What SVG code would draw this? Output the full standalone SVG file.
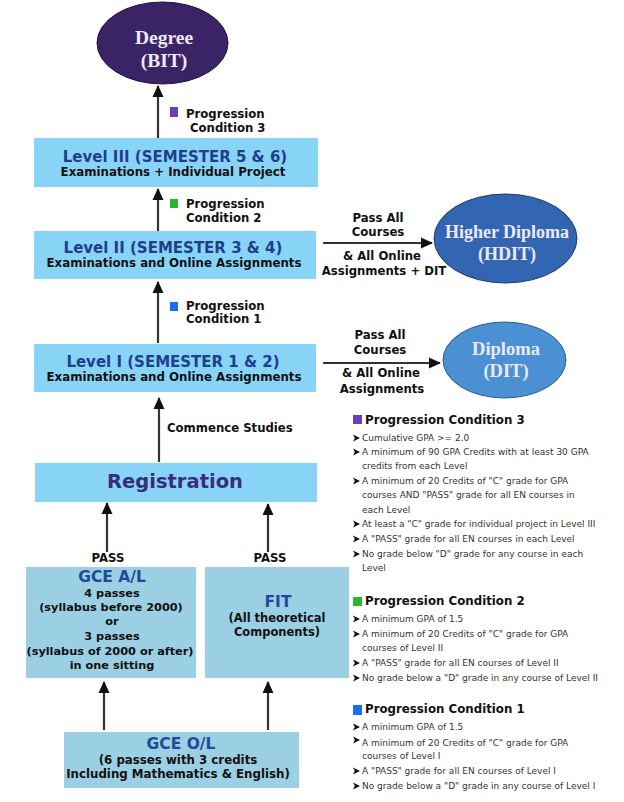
<svg xmlns="http://www.w3.org/2000/svg" width="624" height="802" viewBox="0 0 624 802">
<defs>
<marker id="ah" markerUnits="userSpaceOnUse" markerWidth="12" markerHeight="12" viewBox="0 0 12 12" refX="11" refY="6" orient="auto">
<path d="M0,0.5 L12,6 L0,11.5 z" fill="#111"/>
</marker>
<style>
.lvl{fill:#88D4F7}
.low{fill:#9BCFE3}
.conn{stroke:#333;stroke-width:2.2;fill:none;marker-end:url(#ah)}
.t{font-family:"DejaVu Sans",Verdana,sans-serif;font-weight:bold;text-anchor:middle}
.lt{font-size:15px;fill:#1F3F8C}
.sub{font-size:11.8px;fill:#111}
.lab{font-family:"DejaVu Sans",Verdana,sans-serif;font-weight:bold;font-size:11.7px;fill:#111}
.ell{font-family:"Liberation Serif","Times New Roman",serif;font-weight:bold;text-anchor:middle;fill:#EDE9F8}
.pt{font-family:"DejaVu Sans",Verdana,sans-serif;font-weight:bold;font-size:11.8px;fill:#111}
.pb{font-family:"DejaVu Sans",Verdana,sans-serif;font-size:9px;fill:#333}
.bl{fill:#111}
</style>
<path id="bul" d="M0,-6.5 L7,-3 L0,0.5 L1.8,-3 z"/>
</defs>

<g id="connectors">
<line class="conn" x1="158" y1="138" x2="158" y2="86"/>
<line class="conn" x1="158" y1="231" x2="158" y2="189"/>
<line class="conn" x1="158" y1="343" x2="158" y2="282"/>
<line class="conn" x1="159" y1="462" x2="159" y2="398"/>
<line class="conn" x1="107" y1="552" x2="107" y2="503"/>
<line class="conn" x1="268" y1="552" x2="268" y2="504"/>
<line class="conn" x1="104" y1="730" x2="104" y2="682"/>
<line class="conn" x1="268" y1="730" x2="268" y2="682"/>
<line class="conn" x1="323" y1="243" x2="432" y2="243"/>
<line class="conn" x1="323" y1="363" x2="440" y2="363"/>
</g>

<g id="degree">
<ellipse cx="162.5" cy="43" rx="65.5" ry="41" fill="#3A2466" stroke="#24153F" stroke-width="1"/>
<text class="ell" x="164" y="44" font-size="19.5">Degree</text>
<text class="ell" x="164" y="67" font-size="19.5">(BIT)</text>
</g>

<g id="hdit">
<ellipse cx="505.5" cy="238.5" rx="71.5" ry="44.5" fill="#3366B2" stroke="#1E3D70" stroke-width="1"/>
<text class="ell" x="507" y="238" font-size="18">Higher Diploma</text>
<text class="ell" x="507" y="260" font-size="18">(HDIT)</text>
</g>

<g id="dit">
<ellipse cx="504.5" cy="360" rx="61.5" ry="38" fill="#4A90D2" stroke="#2A5C92" stroke-width="1"/>
<text class="ell" x="506" y="355" font-size="18.5">Diploma</text>
<text class="ell" x="506" y="377" font-size="18.5">(DIT)</text>
</g>

<g id="label-pc3">
<rect x="170" y="107" width="8" height="10" fill="#6A3FB5"/>
<text class="lab" x="186" y="118">Progression</text>
<text class="lab" x="190" y="132">Condition 3</text>
</g>

<g id="level3">
<rect class="lvl" x="34" y="138" width="284" height="49"/>
<text class="t lt" x="175" y="162">Level III (SEMESTER 5 &amp; 6)</text>
<text class="t sub" x="173" y="176">Examinations + Individual Project</text>
</g>

<g id="label-pc2">
<rect x="170" y="199" width="8" height="9" fill="#2DB52D"/>
<text class="lab" x="186" y="208">Progression</text>
<text class="lab" x="186" y="222">Condition 2</text>
</g>

<g id="level2">
<rect class="lvl" x="34" y="231" width="282" height="48"/>
<text class="t lt" x="173" y="253">Level II (SEMESTER 3 &amp; 4)</text>
<text class="t sub" x="174" y="267">Examinations and Online Assignments</text>
</g>

<g id="label-hdit">
<text class="t lab" x="378" y="222">Pass All</text>
<text class="t lab" x="378" y="236">Courses</text>
<text class="t lab" x="382" y="260">&amp; All Online</text>
<text class="t lab" x="384" y="275">Assignments + DIT</text>
</g>

<g id="label-pc1">
<rect x="170" y="302" width="8" height="9" fill="#1A6EF0"/>
<text class="lab" x="186" y="310">Progression</text>
<text class="lab" x="186" y="323">Condition 1</text>
</g>

<g id="level1">
<rect class="lvl" x="34" y="344" width="282" height="48"/>
<text class="t lt" x="173" y="367">Level I (SEMESTER 1 &amp; 2)</text>
<text class="t sub" x="174" y="381">Examinations and Online Assignments</text>
</g>

<g id="label-dit">
<text class="t lab" x="380" y="339">Pass All</text>
<text class="t lab" x="380" y="354">Courses</text>
<text class="t lab" x="381" y="377">&amp; All Online</text>
<text class="t lab" x="382" y="393">Assignments</text>
</g>

<g id="label-commence">
<text class="lab" x="167" y="432">Commence Studies</text>
</g>

<g id="registration">
<rect class="lvl" x="35" y="463" width="282" height="39"/>
<text class="t" x="175" y="488" font-size="19.5" fill="#3B2C7A">Registration</text>
</g>

<g id="label-pass">
<text class="t lab" x="108" y="562">PASS</text>
<text class="t lab" x="270" y="562">PASS</text>
</g>

<g id="gceal">
<rect class="low" x="26" y="567" width="170" height="111"/>
<text class="t" x="112" y="582" font-size="15.5" fill="#1E4A9A">GCE A/L</text>
<g class="t" font-size="11.3" fill="#111">
<text x="112" y="597">4 passes</text>
<text x="111" y="611">(syllabus before 2000)</text>
<text x="112" y="625">or</text>
<text x="112" y="640">3 passes</text>
<text x="110" y="655">(syllabus of 2000 or after)</text>
<text x="112" y="669">in one sitting</text>
</g>
</g>

<g id="fit">
<rect class="low" x="205" y="567" width="144" height="111"/>
<text class="t" x="278" y="607" font-size="15.5" fill="#1E4A9A">FIT</text>
<text class="t" x="277" y="622" font-size="11.5" fill="#111">(All theoretical</text>
<text class="t" x="277" y="636" font-size="11.5" fill="#111">Components)</text>
</g>

<g id="gceol">
<rect class="low" x="64" y="732" width="235" height="56"/>
<text class="t" x="181" y="749" font-size="15.5" fill="#1E4A9A">GCE O/L</text>
<text class="t" x="178" y="764" font-size="11.8" fill="#111">(6 passes with 3 credits</text>
<text class="t" x="178" y="778" font-size="11.8" fill="#111">Including Mathematics &amp; English)</text>
</g>

<g id="pc3-panel">
<rect x="353" y="415" width="9" height="9" fill="#6A3FB5"/>
<text class="pt" x="365" y="424">Progression Condition 3</text>
<g class="bl">
<use href="#bul" x="353" y="441"/>
<use href="#bul" x="353" y="455"/>
<use href="#bul" x="353" y="484"/>
<use href="#bul" x="353" y="527"/>
<use href="#bul" x="353" y="542"/>
<use href="#bul" x="353" y="557"/>
</g>
<text class="pb" x="362" y="441">Cumulative GPA &gt;= 2.0</text>
<text class="pb" x="362" y="455">A minimum of 90 GPA Credits with at least 30 GPA</text>
<text class="pb" x="362" y="469">credits from each Level</text>
<text class="pb" x="362" y="484">A minimum of 20 Credits of "C" grade for GPA</text>
<text class="pb" x="362" y="498">courses AND "PASS" grade for all EN courses in</text>
<text class="pb" x="362" y="513">each Level</text>
<text class="pb" x="362" y="527">At least a "C" grade for individual project in Level III</text>
<text class="pb" x="362" y="542">A "PASS" grade for all EN courses in each Level</text>
<text class="pb" x="362" y="557">No grade below "D" grade for any course in each</text>
<text class="pb" x="362" y="571">Level</text>
</g>

<g id="pc2-panel">
<rect x="353" y="597" width="9" height="9" fill="#2DB52D"/>
<text class="pt" x="365" y="605">Progression Condition 2</text>
<g class="bl">
<use href="#bul" x="353" y="622"/>
<use href="#bul" x="353" y="637"/>
<use href="#bul" x="353" y="666"/>
<use href="#bul" x="353" y="681"/>
</g>
<text class="pb" x="362" y="622">A minimum GPA of 1.5</text>
<text class="pb" x="362" y="637">A minimum of 20 Credits of "C" grade for GPA</text>
<text class="pb" x="362" y="651">courses of Level II</text>
<text class="pb" x="362" y="666">A "PASS" grade for all EN courses of Level II</text>
<text class="pb" x="362" y="681">No grade below a "D" grade in any course of Level II</text>
</g>

<g id="pc1-panel">
<rect x="353" y="705" width="9" height="10" fill="#1A6EF0"/>
<text class="pt" x="365" y="713">Progression Condition 1</text>
<g class="bl">
<use href="#bul" x="353" y="730"/>
<use href="#bul" x="353" y="743"/>
<use href="#bul" x="353" y="774"/>
<use href="#bul" x="353" y="789"/>
</g>
<text class="pb" x="362" y="730">A minimum GPA of 1.5</text>
<text class="pb" x="362" y="746">A minimum of 20 Credits of "C" grade for GPA</text>
<text class="pb" x="362" y="759">courses of Level I</text>
<text class="pb" x="362" y="774">A "PASS" grade for all EN courses of Level I</text>
<text class="pb" x="362" y="789">No grade below a "D" grade in any course of Level I</text>
</g>
</svg>
